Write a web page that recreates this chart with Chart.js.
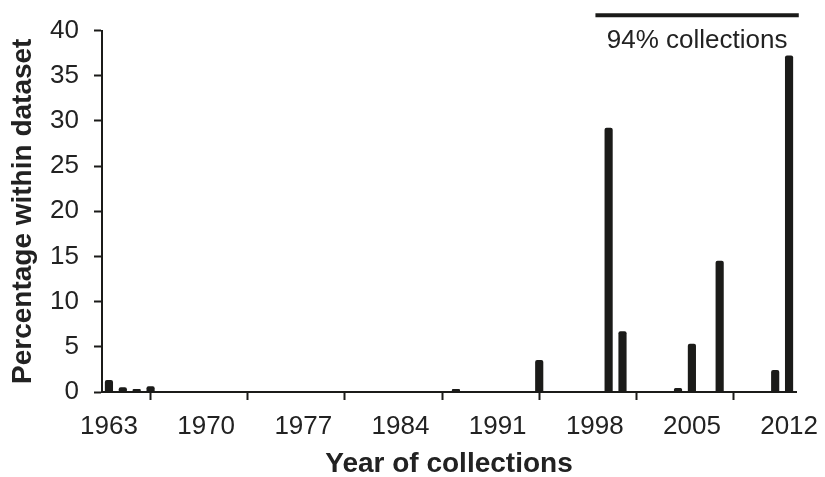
<!DOCTYPE html>
<html>
<head>
<meta charset="utf-8">
<script src="https://cdn.jsdelivr.net/npm/chart.js@4.4.1/dist/chart.umd.min.js"></script>
<style>
  html, body { margin: 0; padding: 0; background: #fff; }
  #wrap { width: 825px; height: 477px; }
</style>
</head>
<body>
<div id="wrap"><canvas id="barChart"></canvas></div>
<script>
// data
let years = [1963, 1964, 1965, 1966, 1988, 1994, 1999, 2000, 2004, 2005, 2007, 2011, 2012];
let percents = [1.3, 0.5, 0.3, 0.6, 0.3, 3.5, 29.2, 6.7, 0.4, 5.3, 14.5, 2.4, 37.2];
let tickYears = [1963, 1970, 1977, 1984, 1991, 1998, 2005, 2012];
let yTicks = [0, 5, 10, 15, 20, 25, 30, 35, 40];

// bracket over the last years
let bracketFrom = 1998.55;
let bracketTo = 2013.2;
let bracketLevel = 41.7;
let bracketText = '94% collections';

let inkColor = '#1b1b19';
let fontName = '"Liberation Sans", Arial, sans-serif';

// each year fills the slot from year to year+1, tick sits at the slot start
let points = years.map((y, i) => ({ x: y + 0.5, y: percents[i] }));

let bracketPlugin = {
  id: 'bracket',
  afterDraw(chart) {
    let ctx = chart.ctx;
    let xs = chart.scales.x;
    let ys = chart.scales.y;
    let x1 = xs.getPixelForValue(bracketFrom);
    let x2 = xs.getPixelForValue(bracketTo);
    let yy = ys.getPixelForValue(bracketLevel);
    ctx.save();
    ctx.strokeStyle = inkColor;
    ctx.lineWidth = 4;
    ctx.beginPath();
    ctx.moveTo(x1, yy);
    ctx.lineTo(x2, yy);
    ctx.stroke();
    ctx.fillStyle = '#222';
    ctx.font = '26px ' + fontName;
    ctx.textAlign = 'center';
    ctx.textBaseline = 'alphabetic';
    ctx.fillText(bracketText, (x1 + x2) / 2, yy + 33);
    ctx.restore();
  }
};

let barConfig = {
  type: 'bar',
  data: {
    datasets: [{
      data: points,
      backgroundColor: inkColor,
      borderRadius: 2,
      borderSkipped: 'bottom',
      barThickness: 7.5
    }]
  },
  options: {
    responsive: true,
    maintainAspectRatio: false,
    animation: false,
    plugins: {
      legend: { display: false },
      tooltip: { enabled: false }
    },
    layout: {
      padding: { top: 16, right: 29, left: 6, bottom: 0 }
    },
    scales: {
      x: {
        type: 'linear',
        offset: false,
        min: tickYears[0],
        max: years[years.length - 1] + 1,
        afterBuildTicks: (scale) => {
          scale.ticks = tickYears.map(v => ({ value: v }));
        },
        // keep the axis line where the figure has it
        afterFit: (scale) => {
          scale.height = 85;
        },
        grid: {
          drawOnChartArea: false,
          drawTicks: true,
          tickLength: 8,
          tickWidth: 2,
          color: inkColor
        },
        border: { display: true, color: inkColor, width: 2 },
        ticks: {
          color: '#222',
          padding: 11,
          labelOffset: 7,
          maxRotation: 0,
          autoSkip: false,
          font: { family: fontName, size: 26 },
          callback: (v) => String(v)
        },
        title: {
          display: true,
          text: 'Year of collections',
          color: '#222',
          padding: { top: 0, bottom: -4 },
          font: { family: fontName, size: 28, weight: 'bold' }
        }
      },
      y: {
        min: yTicks[0],
        max: yTicks[yTicks.length - 1],
        afterBuildTicks: (scale) => {
          scale.ticks = yTicks.map(v => ({ value: v }));
        },
        afterFit: (scale) => {
          scale.width = 96;
        },
        grid: {
          drawOnChartArea: false,
          drawTicks: true,
          tickLength: 8,
          tickWidth: 2,
          color: inkColor
        },
        border: { display: true, color: inkColor, width: 2 },
        ticks: {
          color: '#222',
          padding: 15,
          font: { family: fontName, size: 26 }
        },
        title: {
          display: true,
          text: 'Percentage within dataset',
          color: '#222',
          padding: { top: 0, bottom: 6 },
          font: { family: fontName, size: 28, weight: 'bold' }
        }
      }
    }
  },
  plugins: [bracketPlugin]
};

let barChart = new Chart(document.getElementById('barChart'), barConfig);
</script>
</body>
</html>
